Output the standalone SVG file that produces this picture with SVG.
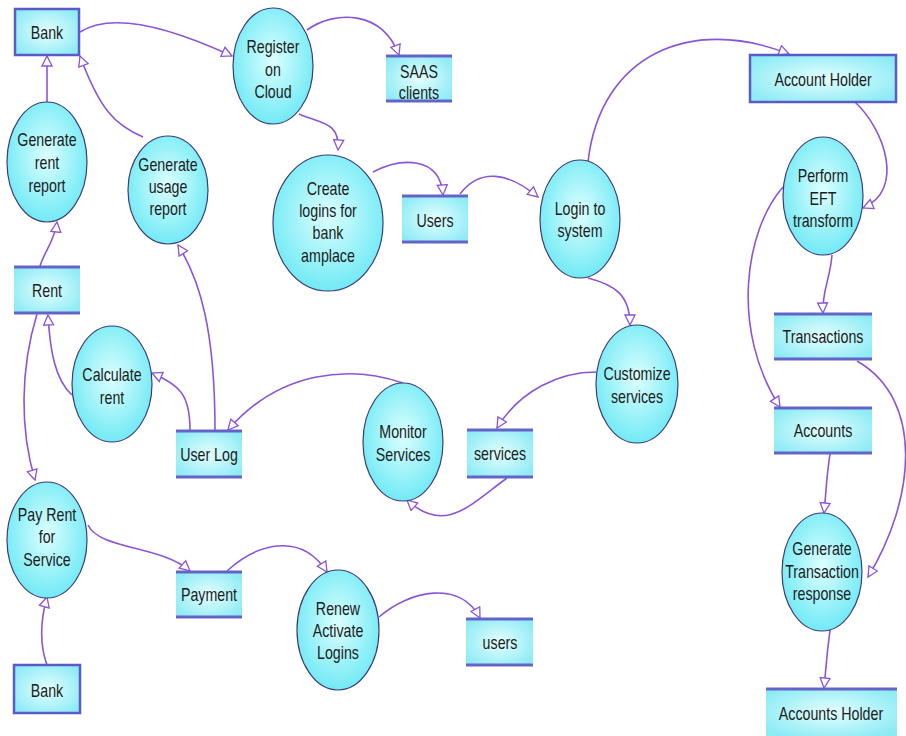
<svg xmlns="http://www.w3.org/2000/svg" width="906" height="736" viewBox="0 0 906 736">
<defs>
<radialGradient id="gEll" cx="50%" cy="45%" r="55%">
<stop offset="0%" stop-color="#dcffff"/>
<stop offset="100%" stop-color="#72eaf5"/>
</radialGradient>
<radialGradient id="gRect" cx="50%" cy="50%" r="60%">
<stop offset="0%" stop-color="#e4ffff"/>
<stop offset="100%" stop-color="#8eebf5"/>
</radialGradient>
<marker id="arr" viewBox="0 0 12 12" refX="11" refY="6" markerWidth="12" markerHeight="12" markerUnits="userSpaceOnUse" orient="auto">
<path d="M1,1 L11,6 L1,11 Z" fill="#ffffff" stroke="#8a55d8" stroke-width="1.3"/>
</marker>
</defs>
<style>
.proc ellipse{fill:url(#gEll);stroke:#3c3c78;stroke-width:1.2}
.store rect{fill:url(#gRect);stroke:none}
.store line{stroke:#6464c8;stroke-width:3}
.ext rect{fill:url(#gRect);stroke:#5a5ac8;stroke-width:2.5}
text{font-family:"Liberation Sans",Arial,sans-serif;font-size:18px;fill:#1c1c1c;text-anchor:middle}
#connectors path{fill:none;stroke:#8a55d8;stroke-width:1.6;marker-end:url(#arr)}
</style>
<rect width="906" height="736" fill="#ffffff"/>

<g id="connectors">
<path d="M80,32 C105,16 150,18 232,56"/>
<path d="M307,30 C335,10 382,10 399,55"/>
<path d="M299,114 C322,124 340,122 338,150"/>
<path d="M373,172 C400,158 440,155 443,195"/>
<path d="M460,194 C480,168 508,172 538,197"/>
<path d="M588,162 C600,55 690,15 789,54"/>
<path d="M855,102 C885,130 905,190 863,208"/>
<path d="M832,255 C830,280 822,290 823,313"/>
<path d="M783,187 C745,230 730,330 780,407"/>
<path d="M857,361 C925,400 915,500 868,577"/>
<path d="M830,454 C826,480 826,495 824,513"/>
<path d="M830,630 C826,660 826,670 824,688"/>
<path d="M588,278 C615,285 630,295 630,325"/>
<path d="M596,372 C560,372 520,390 497,428"/>
<path d="M507,478 C470,505 445,535 407,500"/>
<path d="M403,383 C350,365 280,370 228,430"/>
<path d="M190,430 C190,395 180,385 152,373"/>
<path d="M215,430 C215,330 200,280 178,245"/>
<path d="M143,137 C115,125 100,110 80,56"/>
<path d="M47,102 L47,56"/>
<path d="M40,266 C45,250 55,240 57,222"/>
<path d="M72,395 C55,380 50,350 48,315"/>
<path d="M37,314 C20,370 20,430 35,480"/>
<path d="M47,665 C38,640 42,615 47,597"/>
<path d="M88,525 C100,550 160,545 190,571"/>
<path d="M227,571 C255,545 300,530 327,572"/>
<path d="M379,617 C410,590 460,580 480,618"/>
</g>

<g id="bank-top" class="ext"><rect x="15" y="9" width="64" height="46"/><text transform="matrix(0.79 0 0 1 47 0)" x="0" y="39">Bank</text></g>
<g id="account-holder" class="ext"><rect x="750" y="55" width="146" height="47"/><text transform="matrix(0.79 0 0 1 823 0)" x="0" y="86">Account Holder</text></g>
<g id="bank-bottom" class="ext"><rect x="14" y="665" width="66" height="48"/><text transform="matrix(0.79 0 0 1 47 0)" x="0" y="697">Bank</text></g>

<g id="saas-clients" class="store"><rect x="386" y="55" width="66" height="47"/><line x1="386" y1="56" x2="452" y2="56"/><line x1="386" y1="101" x2="452" y2="101"/><text transform="matrix(0.79 0 0 1 419 0)" x="0" y="78">SAAS</text><text transform="matrix(0.79 0 0 1 419 0)" x="0" y="99">clients</text></g>
<g id="users-store" class="store"><rect x="402" y="195" width="66" height="48"/><line x1="402" y1="196" x2="468" y2="196"/><line x1="402" y1="242" x2="468" y2="242"/><text transform="matrix(0.79 0 0 1 435 0)" x="0" y="227">Users</text></g>
<g id="rent" class="store"><rect x="14" y="266" width="66" height="48"/><line x1="14" y1="267" x2="80" y2="267"/><line x1="14" y1="313" x2="80" y2="313"/><text transform="matrix(0.79 0 0 1 47 0)" x="0" y="297">Rent</text></g>
<g id="user-log" class="store"><rect x="176" y="430" width="66" height="48"/><line x1="176" y1="431" x2="242" y2="431"/><line x1="176" y1="477" x2="242" y2="477"/><text transform="matrix(0.79 0 0 1 209 0)" x="0" y="461">User Log</text></g>
<g id="services-store" class="store"><rect x="467" y="429" width="66" height="49"/><line x1="467" y1="430" x2="533" y2="430"/><line x1="467" y1="477" x2="533" y2="477"/><text transform="matrix(0.79 0 0 1 500 0)" x="0" y="460">services</text></g>
<g id="transactions" class="store"><rect x="774" y="313" width="98" height="47"/><line x1="774" y1="314" x2="872" y2="314"/><line x1="774" y1="359" x2="872" y2="359"/><text transform="matrix(0.79 0 0 1 823 0)" x="0" y="343">Transactions</text></g>
<g id="accounts" class="store"><rect x="774" y="407" width="98" height="47"/><line x1="774" y1="408" x2="872" y2="408"/><line x1="774" y1="453" x2="872" y2="453"/><text transform="matrix(0.79 0 0 1 823 0)" x="0" y="437">Accounts</text></g>
<g id="payment" class="store"><rect x="176" y="571" width="66" height="47"/><line x1="176" y1="572" x2="242" y2="572"/><line x1="176" y1="617" x2="242" y2="617"/><text transform="matrix(0.79 0 0 1 209 0)" x="0" y="601">Payment</text></g>
<g id="users-lower" class="store"><rect x="466" y="618" width="67" height="48"/><line x1="466" y1="619" x2="533" y2="619"/><line x1="466" y1="665" x2="533" y2="665"/><text transform="matrix(0.79 0 0 1 500 0)" x="0" y="649">users</text></g>
<g id="accounts-holder" class="store"><rect x="766" y="688" width="131" height="48"/><line x1="766" y1="689" x2="897" y2="689"/><text transform="matrix(0.79 0 0 1 831 0)" x="0" y="720">Accounts Holder</text></g>

<g id="register-cloud" class="proc"><ellipse cx="273" cy="66" rx="40" ry="58"/><text transform="matrix(0.79 0 0 1 273 0)"><tspan x="0" y="53">Register</tspan><tspan x="0" y="76">on</tspan><tspan x="0" y="98">Cloud</tspan></text></g>
<g id="gen-rent-report" class="proc"><ellipse cx="47" cy="162" rx="40" ry="60"/><text transform="matrix(0.79 0 0 1 47 0)"><tspan x="0" y="146">Generate</tspan><tspan x="0" y="169">rent</tspan><tspan x="0" y="192">report</tspan></text></g>
<g id="gen-usage-report" class="proc"><ellipse cx="168" cy="190" rx="40" ry="54"/><text transform="matrix(0.79 0 0 1 168 0)"><tspan x="0" y="171">Generate</tspan><tspan x="0" y="193">usage</tspan><tspan x="0" y="215">report</tspan></text></g>
<g id="create-logins" class="proc"><ellipse cx="328" cy="223" rx="55" ry="68"/><text transform="matrix(0.79 0 0 1 328 0)"><tspan x="0" y="195">Create</tspan><tspan x="0" y="217">logins for</tspan><tspan x="0" y="239">bank</tspan><tspan x="0" y="262">amplace</tspan></text></g>
<g id="login-system" class="proc"><ellipse cx="580" cy="219" rx="40" ry="59"/><text transform="matrix(0.79 0 0 1 580 0)"><tspan x="0" y="215">Login to</tspan><tspan x="0" y="237">system</tspan></text></g>
<g id="perform-eft" class="proc"><ellipse cx="823" cy="196" rx="40" ry="59"/><text transform="matrix(0.79 0 0 1 823 0)"><tspan x="0" y="182">Perform</tspan><tspan x="0" y="205">EFT</tspan><tspan x="0" y="227">transform</tspan></text></g>
<g id="customize-services" class="proc"><ellipse cx="637" cy="384" rx="41" ry="59"/><text transform="matrix(0.79 0 0 1 637 0)"><tspan x="0" y="380">Customize</tspan><tspan x="0" y="403">services</tspan></text></g>
<g id="monitor-services" class="proc"><ellipse cx="403" cy="442" rx="40" ry="59"/><text transform="matrix(0.79 0 0 1 403 0)"><tspan x="0" y="438">Monitor</tspan><tspan x="0" y="461">Services</tspan></text></g>
<g id="calculate-rent" class="proc"><ellipse cx="112" cy="384" rx="40" ry="58"/><text transform="matrix(0.79 0 0 1 112 0)"><tspan x="0" y="381">Calculate</tspan><tspan x="0" y="404">rent</tspan></text></g>
<g id="pay-rent" class="proc"><ellipse cx="47" cy="540" rx="40" ry="58"/><text transform="matrix(0.79 0 0 1 47 0)"><tspan x="0" y="521">Pay Rent</tspan><tspan x="0" y="543">for</tspan><tspan x="0" y="566">Service</tspan></text></g>
<g id="renew-logins" class="proc"><ellipse cx="338" cy="630" rx="41" ry="60"/><text transform="matrix(0.79 0 0 1 338 0)"><tspan x="0" y="615">Renew</tspan><tspan x="0" y="637">Activate</tspan><tspan x="0" y="659">Logins</tspan></text></g>
<g id="gen-transaction-response" class="proc"><ellipse cx="822" cy="572" rx="40" ry="59"/><text transform="matrix(0.79 0 0 1 822 0)"><tspan x="0" y="555">Generate</tspan><tspan x="0" y="578">Transaction</tspan><tspan x="0" y="600">response</tspan></text></g>
</svg>
